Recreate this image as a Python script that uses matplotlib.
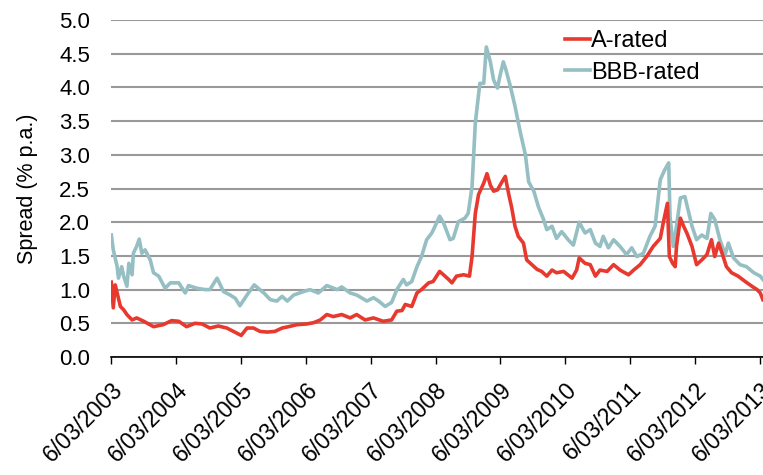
import numpy as np
import pandas as pd
import matplotlib
matplotlib.use("Agg")
import matplotlib.pyplot as plt

plt.rcParams['font.family'] = ['Liberation Sans', 'DejaVu Sans']

# decimal-year positions and spreads (% p.a.)
a_t = [2003.18, 2003.21, 2003.24, 2003.27, 2003.32, 2003.37, 2003.42, 2003.50, 2003.57, 2003.68,
       2003.83, 2003.98, 2004.11, 2004.22, 2004.34, 2004.47, 2004.58, 2004.70, 2004.83, 2004.96,
       2005.06, 2005.18, 2005.27, 2005.37, 2005.47, 2005.58, 2005.70, 2005.81, 2005.91, 2006.04,
       2006.19, 2006.30, 2006.40, 2006.50, 2006.60, 2006.73, 2006.86, 2006.96, 2007.09, 2007.22,
       2007.37, 2007.50, 2007.58, 2007.66, 2007.71, 2007.81, 2007.89, 2007.96, 2008.07, 2008.14,
       2008.24, 2008.30, 2008.38, 2008.43, 2008.50, 2008.61, 2008.70, 2008.74, 2008.79, 2008.84,
       2008.92, 2008.97, 2009.02, 2009.07, 2009.13, 2009.20, 2009.25, 2009.30, 2009.35, 2009.40,
       2009.45, 2009.53, 2009.58, 2009.66, 2009.74, 2009.81, 2009.89, 2009.97, 2010.04, 2010.15,
       2010.28, 2010.35, 2010.39, 2010.48, 2010.56, 2010.64, 2010.71, 2010.82, 2010.92, 2011.02,
       2011.15, 2011.23, 2011.33, 2011.43, 2011.53, 2011.64, 2011.69, 2011.75, 2011.78, 2011.83,
       2011.87, 2011.89, 2011.95, 2012.00, 2012.05, 2012.13, 2012.20, 2012.28, 2012.36, 2012.43,
       2012.48, 2012.54, 2012.61, 2012.66, 2012.74, 2012.84, 2012.95, 2013.05, 2013.13, 2013.18,
       2013.22]
a_rated = [1.11, 0.73, 1.07, 0.95, 0.75, 0.70, 0.63, 0.55, 0.58, 0.53,
           0.45, 0.48, 0.54, 0.53, 0.45, 0.50, 0.49, 0.43, 0.46, 0.43,
           0.38, 0.32, 0.43, 0.43, 0.38, 0.37, 0.38, 0.43, 0.45, 0.48,
           0.49, 0.51, 0.55, 0.63, 0.60, 0.63, 0.58, 0.63, 0.55, 0.58,
           0.53, 0.55, 0.68, 0.69, 0.78, 0.75, 0.95, 1.00, 1.10, 1.12,
           1.27, 1.22, 1.15, 1.10, 1.20, 1.22, 1.20, 1.49, 2.13, 2.41,
           2.58, 2.72, 2.55, 2.46, 2.48, 2.60, 2.68, 2.43, 2.21, 1.94,
           1.79, 1.69, 1.44, 1.37, 1.30, 1.27, 1.20, 1.29, 1.25, 1.27,
           1.17, 1.29, 1.47, 1.39, 1.37, 1.20, 1.29, 1.27, 1.37, 1.29,
           1.22, 1.29, 1.37, 1.49, 1.64, 1.76, 2.01, 2.28, 1.49, 1.39,
           1.34, 1.64, 2.06, 1.94, 1.84, 1.64, 1.37, 1.44, 1.52, 1.74,
           1.49, 1.69, 1.49, 1.34, 1.25, 1.20, 1.12, 1.05, 1.00, 0.95,
           0.85]

bbb_t = [2003.18, 2003.21, 2003.27, 2003.29, 2003.34, 2003.37, 2003.42, 2003.45, 2003.50, 2003.52,
         2003.57, 2003.61, 2003.65, 2003.70, 2003.78, 2003.83, 2003.91, 2004.01, 2004.09, 2004.22,
         2004.32, 2004.37, 2004.50, 2004.63, 2004.70, 2004.81, 2004.91, 2005.01, 2005.09, 2005.16,
         2005.27, 2005.38, 2005.53, 2005.63, 2005.73, 2005.81, 2005.89, 2005.99, 2006.14, 2006.24,
         2006.37, 2006.50, 2006.66, 2006.73, 2006.86, 2006.96, 2007.12, 2007.22, 2007.30, 2007.40,
         2007.50, 2007.58, 2007.68, 2007.73, 2007.81, 2007.89, 2007.96, 2008.04, 2008.12, 2008.17,
         2008.24, 2008.30, 2008.40, 2008.45, 2008.53, 2008.63, 2008.68, 2008.74, 2008.79, 2008.86,
         2008.92, 2008.96, 2009.02, 2009.07, 2009.13, 2009.17, 2009.22, 2009.26, 2009.33, 2009.40,
         2009.48, 2009.56, 2009.61, 2009.69, 2009.76, 2009.84, 2009.89, 2009.97, 2010.04, 2010.12,
         2010.22, 2010.30, 2010.39, 2010.48, 2010.56, 2010.64, 2010.71, 2010.76, 2010.84, 2010.92,
         2011.02, 2011.12, 2011.20, 2011.28, 2011.38, 2011.48, 2011.56, 2011.64, 2011.71, 2011.77,
         2011.79, 2011.84, 2011.89, 2011.95, 2012.02, 2012.07, 2012.13, 2012.20, 2012.28, 2012.36,
         2012.42, 2012.48, 2012.56, 2012.64, 2012.69, 2012.77, 2012.87, 2012.97, 2013.08, 2013.18,
         2013.22]
bbb_rated = [1.81, 1.59, 1.34, 1.17, 1.34, 1.20, 1.05, 1.39, 1.22, 1.54,
             1.64, 1.75, 1.54, 1.59, 1.44, 1.25, 1.20, 1.02, 1.10, 1.10,
             0.95, 1.06, 1.02, 1.00, 1.00, 1.17, 0.97, 0.92, 0.87, 0.76,
             0.92, 1.07, 0.95, 0.85, 0.83, 0.90, 0.83, 0.92, 0.97, 1.00,
             0.95, 1.06, 1.00, 1.04, 0.95, 0.92, 0.83, 0.88, 0.83, 0.75,
             0.81, 1.00, 1.15, 1.07, 1.12, 1.34, 1.49, 1.74, 1.84, 1.94,
             2.09, 1.99, 1.74, 1.76, 2.01, 2.06, 2.13, 2.53, 3.47, 4.06,
             4.06, 4.60, 4.38, 4.11, 3.99, 4.18, 4.38, 4.26, 4.01, 3.72,
             3.34, 3.00, 2.60, 2.46, 2.23, 2.04, 1.89, 1.94, 1.76, 1.86,
             1.74, 1.66, 2.00, 1.84, 1.89, 1.69, 1.64, 1.79, 1.62, 1.74,
             1.64, 1.52, 1.62, 1.49, 1.54, 1.79, 1.94, 2.63, 2.78, 2.88,
             2.08, 1.64, 1.94, 2.36, 2.38, 2.18, 1.94, 1.74, 1.81, 1.76,
             2.13, 2.04, 1.74, 1.52, 1.69, 1.47, 1.37, 1.34, 1.25, 1.20,
             1.15]

tick_years = list(range(2003, 2014))


def to_date(y):
    yr = int(y)
    return pd.Timestamp(yr, 1, 1) + pd.Timedelta(days=(y - yr) * 365.25)


fig = plt.figure(figsize=(7.63, 4.75), dpi=100)
ax = fig.add_axes([0.1455, 0.2484, 0.8545, 0.7095])

ax.plot([to_date(t) for t in a_t], a_rated, color='#E8392F', lw=2.6, label='A-rated', zorder=3)
ax.plot([to_date(t) for t in bbb_t], bbb_rated, color='#95BFC3', lw=2.6, label='BBB-rated', zorder=2)

ax.set_ylim(0, 5.0)
ax.set_yticks(np.arange(0, 5.01, 0.5))
ax.set_yticklabels(['%.1f' % v for v in np.arange(0, 5.01, 0.5)], fontsize=16)
ax.grid(axis='y', color='#999999', lw=1.5)
ax.set_axisbelow(True)
ax.tick_params(axis='y', length=0, pad=15)

ticks = [pd.Timestamp(y, 3, 6) for y in tick_years]
ax.set_xlim(pd.Timestamp(2003, 3, 6), pd.Timestamp(2013, 3, 23))
ax.set_xticks(ticks)
ax.set_xticklabels(['6/03/%d' % y for y in tick_years], fontsize=16.5,
                   rotation=45, ha='right', va='top', rotation_mode='anchor')
ax.tick_params(axis='x', length=5, width=1, pad=10, direction='out')

for s in ['top', 'right', 'left']:
    ax.spines[s].set_visible(False)
ax.spines['bottom'].set_linewidth(1.2)

ax.set_ylabel('Spread (% p.a.)', fontsize=15.5, labelpad=15)

ax.legend(loc='upper left', bbox_to_anchor=(0.697, 0.97), frameon=False, fontsize=17,
          handlelength=1.05, handletextpad=0.05, labelspacing=0.4, borderaxespad=0,
          borderpad=0)

fig.savefig('out.png', dpi=100)
